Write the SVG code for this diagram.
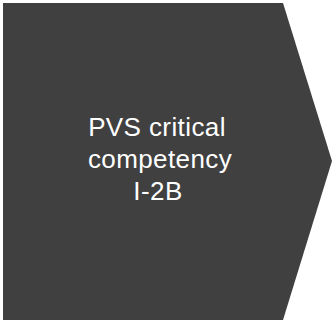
<svg xmlns="http://www.w3.org/2000/svg" width="332" height="320" viewBox="0 0 332 320">
<style>
.shape{fill:#404040}
.lbl{font-family:"Liberation Sans",Arial,sans-serif;font-size:26px;letter-spacing:0.4px;fill:#ffffff;text-anchor:middle}
</style>
<rect width="332" height="320" fill="#ffffff"/>
<g id="node-chevron">
<polygon class="shape" points="3,3 283,3 332,161 283,320 3,320"/>
<text class="lbl" x="157" y="136">PVS critical</text>
<text class="lbl" x="160" y="168">competency</text>
<text class="lbl" x="158" y="200">I-2B</text>
</g>
</svg>
